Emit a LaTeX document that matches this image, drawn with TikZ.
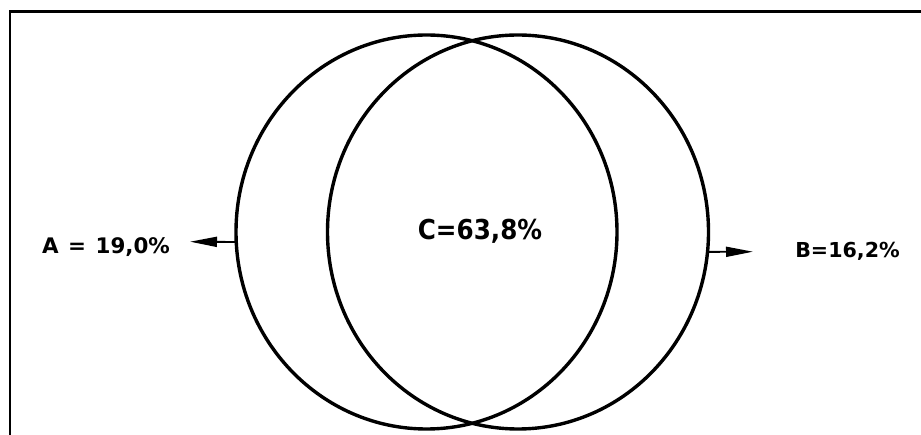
\documentclass[tikz,border=0pt]{standalone}
\usepackage{fontspec}
\setmainfont{DejaVu Sans}
\newfontfamily\condfont{DejaVu Sans}[FakeStretch=0.9]
\usetikzlibrary{shapes.geometric,arrows.meta}
\tikzset{
  ring/.style={ellipse, draw, line width=3.4pt, inner sep=0pt, outer sep=0pt, minimum width=381pt, minimum height=394pt},
  lbl/.style={inner sep=0pt},
  pointer/.style={line width=1.8pt, -{Triangle[length=27pt,width=10pt]}},
  frame/.style={line width=2.2pt}
}
\begin{document}
\begin{tikzpicture}[x=1pt,y=-1pt]
\useasboundingbox (0,0) rectangle (921,435);
\coordinate (fb) at (10,440);
\coordinate (fc) at (10,11.5);
\coordinate (fr) at (926,11.5);
\draw[frame] (fb) -- (fc) -- (fr);
\node[ring] (L) at (426.5,232) {};
\node[ring] (R) at (518,232) {};
\node[lbl, font=\bfseries\fontsize{21.4}{24}\selectfont, anchor=base] (A) at (106,253.3) {A\hspace{9.5pt}=\hspace{9.5pt}19,0\%};
\node[lbl, font=\bfseries\fontsize{20.6}{24}\selectfont, anchor=base] (B) at (847.5,258) {B=16,2\%};
\node[lbl, font=\condfont\bfseries\fontsize{27.4}{30}\selectfont, anchor=base] (C) at (480,239.3) {C=63,8\%};
\coordinate (ae) at (190,241.7);
\coordinate (be) at (753,251.7);
\draw[pointer] (L.183) -- (ae);
\draw[pointer] (R.-6) -- (be);
\end{tikzpicture}
\end{document}
